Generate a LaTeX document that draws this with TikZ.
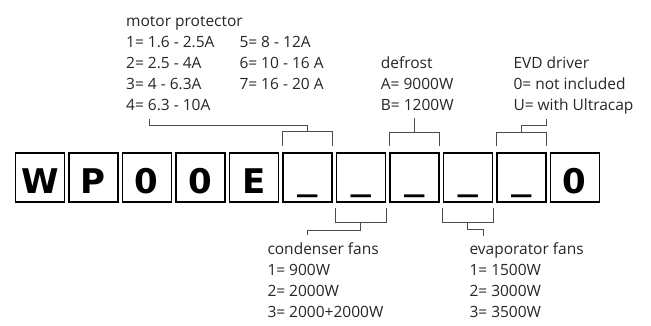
\documentclass[tikz,border=0pt]{standalone}
\usepackage{graphicx}
\usepackage{fontspec}
\setmainfont{Open Sans}
\newfontfamily\boxfont{DejaVu Sans}
\newcommand{\blankmark}{\raisebox{2.5pt}{\scalebox{1.2}[0.9]{\_}}}
\begin{document}
\begin{tikzpicture}[x=1pt,y=-1pt,
  letterbox/.style={draw=black, line width=1.4pt, minimum size=49pt, inner sep=0pt,
    font=\boxfont\bfseries\fontsize{34}{34}\selectfont, text height=31pt, text depth=0pt},
  lbl/.style={anchor=base west, inner sep=0pt, font=\fontsize{15.5}{21}\selectfont, text=black!85},
  conn/.style={draw=black!70, line width=0.9pt}]
\useasboundingbox (0,0) rectangle (651,325);
% letter boxes
\node[letterbox] (b1) at (39.8,177.5) {W};
\node[letterbox] (b2) at (93.3,177.5) {P};
\node[letterbox] (b3) at (146.8,177.5) {0};
\node[letterbox] (b4) at (200.3,177.5) {0};
\node[letterbox] (b5) at (253.8,177.5) {E};
\node[letterbox] (b6) at (307.3,177.5) {\blankmark};
\node[letterbox] (b7) at (360.8,177.5) {\blankmark};
\node[letterbox] (b8) at (414.3,177.5) {\blankmark};
\node[letterbox] (b9) at (467.8,177.5) {\blankmark};
\node[letterbox] (b10) at (521.3,177.5) {\blankmark};
\node[letterbox] (b11) at (574.8,177.5) {0};
% motor protector
\node[lbl] (mp0) at (126,26.5) {motor protector};
\node[lbl] (mp1) at (126,47.5) {1= 1.6 - 2.5A};
\node[lbl] (mp2) at (126,68.5) {2= 2.5 - 4A};
\node[lbl] (mp3) at (126,89.5) {3= 4 - 6.3A};
\node[lbl] (mp4) at (126,110.5) {4= 6.3 - 10A};
\node[lbl] (mp5) at (239.3,47.5) {5= 8 - 12A};
\node[lbl] (mp6) at (239.3,68.5) {6= 10 - 16 A};
\node[lbl] (mp7) at (239.3,89.5) {7= 16 - 20 A};
% defrost
\node[lbl] (df0) at (380.7,68.5) {defrost};
\node[lbl] (df1) at (380.7,89.5) {A= 9000W};
\node[lbl] (df2) at (380.7,110.5) {B= 1200W};
% EVD driver
\node[lbl] (ev0) at (513.3,68.5) {EVD driver};
\node[lbl] (ev1) at (513.3,89.5) {0= not included};
\node[lbl] (ev2) at (513.3,110.5) {U= with Ultracap};
% condenser fans
\node[lbl] (cf0) at (267.3,254) {condenser fans};
\node[lbl] (cf1) at (267.3,275) {1= 900W};
\node[lbl] (cf2) at (267.3,296) {2= 2000W};
\node[lbl] (cf3) at (267.3,317) {3= 2000+2000W};
% evaporator fans
\node[lbl] (vf0) at (469.3,254) {evaporator fans};
\node[lbl] (vf1) at (469.3,275) {1= 1500W};
\node[lbl] (vf2) at (469.3,296) {2= 3000W};
\node[lbl] (vf3) at (469.3,317) {3= 3500W};
% free ends
\coordinate (mpend) at (149.3,119.3);
\coordinate (dfend) at (414.3,118.3);
\coordinate (evend) at (546.3,119);
\coordinate (cfend) at (307.7,235);
\coordinate (vfend) at (483,236);
% connectors
\draw[conn] (b6.north west |- 0,146) -- (b6.north west |- 0,131) -- (b6.north east |- 0,131) -- (b6.north east |- 0,146);
\draw[conn] (b6.north |- 0,131) -- (b6.north |- 0,125) -- (mpend |- 0,125) -- (mpend);
\draw[conn] (b8.north west |- 0,146) -- (b8.north west |- 0,132.3) -- (b8.north east |- 0,132.3) -- (b8.north east |- 0,146);
\draw[conn] (b8.north |- 0,132.3) -- (dfend);
\draw[conn] (b10.north west |- 0,146) -- (b10.north west |- 0,132.3) -- (b10.north east |- 0,132.3) -- (b10.north east |- 0,146);
\draw[conn] (b10.north |- 0,132.3) -- (b10.north |- 0,125.7) -- (evend |- 0,125.7) -- (evend);
\draw[conn] (b7.south west |- 0,208.3) -- (b7.south west |- 0,222.7) -- (b7.south east |- 0,222.7) -- (b7.south east |- 0,208.3);
\draw[conn] (b7.south |- 0,222.7) -- (b7.south |- 0,230) -- (cfend |- 0,230) -- (cfend);
\draw[conn] (b9.south west |- 0,208.3) -- (b9.south west |- 0,222.7) -- (b9.south east |- 0,222.7) -- (b9.south east |- 0,208.3);
\draw[conn] (b9.south |- 0,222.7) -- (b9.south |- 0,229.5) -- (vfend |- 0,229.5) -- (vfend);
\end{tikzpicture}
\end{document}
